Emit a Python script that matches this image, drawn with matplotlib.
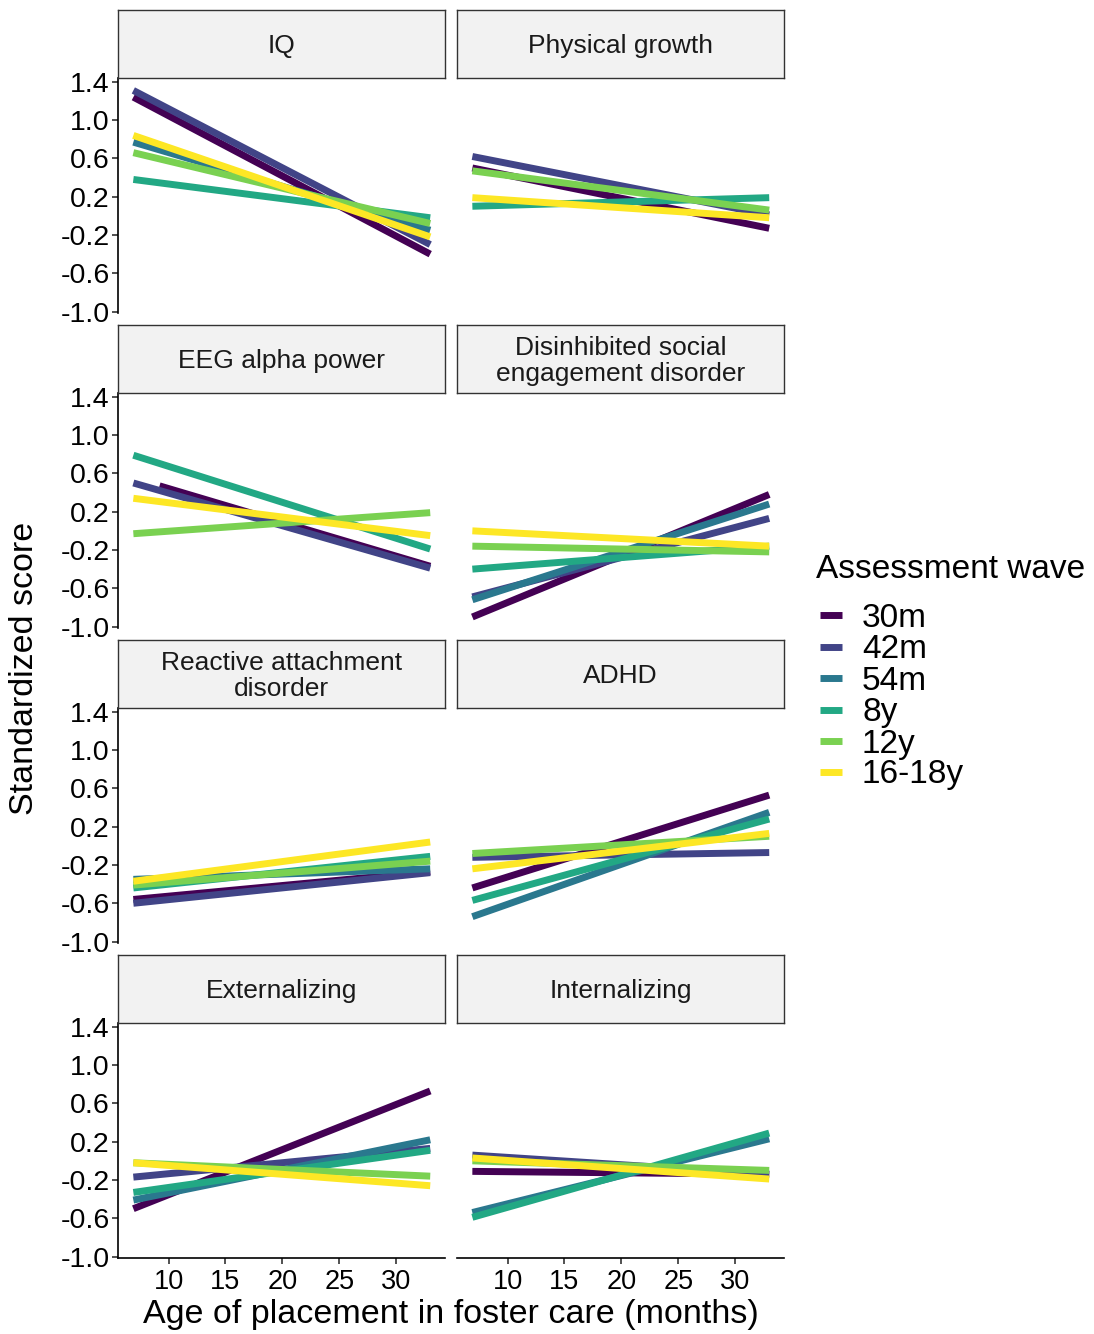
import matplotlib
matplotlib.use("Agg")
import matplotlib.pyplot as plt
from matplotlib.lines import Line2D
import numpy as np

plt.rcParams['font.family'] = ['Liberation Sans', 'DejaVu Sans']

waves = ["30m", "42m", "54m", "8y", "12y", "16-18y"]
colors = ["#440154", "#414487", "#2A788E", "#22A884", "#7AD151", "#FDE725"]

panels = ["IQ", "Physical growth", "EEG alpha power",
          "Disinhibited social\nengagement disorder",
          "Reactive attachment\ndisorder", "ADHD",
          "Externalizing", "Internalizing"]

# age of placement (months) where the fitted lines start / stop
age_lo = [6.9, 6.9, 6.9, 6.9, 6.9, 6.9]
eeg_age_lo = [9.2, 6.9, 6.9, 6.9, 6.9, 6.9]
age_hi = 33.0

# fitted score at youngest and oldest placement age, one per wave (nan = no data)
nan = np.nan
iq_lo = [1.24, 1.31, 0.77, 0.38, 0.66, 0.84]
iq_hi = [-0.40, -0.30, -0.15, -0.02, -0.08, -0.22]
growth_lo = [0.50, 0.62, nan, 0.10, 0.47, 0.19]
growth_hi = [-0.13, 0.01, nan, 0.19, 0.06, -0.02]
eeg_lo = [0.47, 0.50, nan, 0.79, -0.03, 0.34]
eeg_hi = [-0.37, -0.39, nan, -0.19, 0.19, -0.05]
dsed_lo = [-0.90, -0.69, -0.72, -0.40, -0.16, 0.00]
dsed_hi = [0.38, 0.13, 0.28, -0.16, -0.22, -0.16]
rad_lo = [-0.56, -0.60, -0.35, -0.44, -0.41, -0.37]
rad_hi = [-0.27, -0.28, -0.24, -0.11, -0.16, 0.04]
adhd_lo = [-0.44, -0.12, -0.74, -0.57, -0.08, -0.24]
adhd_hi = [0.53, -0.07, 0.35, 0.28, 0.10, 0.13]
ext_lo = [-0.50, -0.17, -0.41, -0.33, -0.02, -0.02]
ext_hi = [0.73, 0.13, 0.22, 0.11, -0.16, -0.26]
int_lo = [-0.11, 0.06, -0.54, -0.59, 0.00, 0.03]
int_hi = [-0.14, -0.14, 0.23, 0.29, -0.10, -0.19]

lo_vals = [iq_lo, growth_lo, eeg_lo, dsed_lo, rad_lo, adhd_lo, ext_lo, int_lo]
hi_vals = [iq_hi, growth_hi, eeg_hi, dsed_hi, rad_hi, adhd_hi, ext_hi, int_hi]
start_ages = [age_lo, age_lo, eeg_age_lo, age_lo, age_lo, age_lo, age_lo, age_lo]

yticks = [-1.0, -0.6, -0.2, 0.2, 0.6, 1.0, 1.4]
xticks = [10, 15, 20, 25, 30]

W, H = 1094, 1334
fig = plt.figure(figsize=(W / 100, H / 100), dpi=100)

col_x = [118, 457]
pw = 327
row_top = [78, 393, 708, 1023]
ph = 235
sh = 68

def fbox(x, top, w, h):
    return [x / W, 1 - (top + h) / H, w / W, h / H]

for i, name in enumerate(panels):
    r, c = divmod(i, 2)
    ax = fig.add_axes(fbox(col_x[c], row_top[r], pw, ph))
    for k in range(len(waves)):
        y0, y1 = lo_vals[i][k], hi_vals[i][k]
        if np.isnan(y0):
            continue
        ax.plot([start_ages[i][k], age_hi], [y0, y1], color=colors[k],
                lw=5, solid_capstyle='butt')
    ax.set_xlim(5.55, 34.3)
    ax.set_ylim(-1.015, 1.44)
    for s in ['top', 'right']:
        ax.spines[s].set_visible(False)
    ax.spines['left'].set_visible(c == 0)
    ax.spines['bottom'].set_visible(r == 3)
    ax.spines['left'].set_linewidth(1.2)
    ax.spines['bottom'].set_linewidth(1.2)
    ax.set_yticks(yticks)
    ax.set_xticks(xticks)
    ax.tick_params(axis='both', labelsize=19.5, length=4, width=1.2, pad=2,
                   colors='#333333', labelcolor='black')
    ax.tick_params(axis='y', labelsize=20.5)
    ax.tick_params(axis='x', pad=4)
    if c == 0:
        ax.set_yticklabels([f"{v:.1f}" for v in yticks])
    else:
        ax.tick_params(axis='y', left=False, labelleft=False)
    if r != 3:
        ax.tick_params(axis='x', bottom=False, labelbottom=False)

    sax = fig.add_axes(fbox(col_x[c], row_top[r] - sh, pw, sh))
    sax.set_facecolor('#F2F2F2')
    sax.set_xticks([])
    sax.set_yticks([])
    for s in sax.spines.values():
        s.set_linewidth(1.0)
        s.set_color('#333333')
    sax.text(0.5, 0.47, name, ha='center', va='center', fontsize=19,
             linespacing=1.08, color='#1A1A1A', transform=sax.transAxes)

fig.text(451 / W, 1 - 1315 / H, "Age of placement in foster care (months)",
         ha='center', va='center', fontsize=24.5)
fig.text(25 / W, 1 - 668 / H, "Standardized score", ha='center', va='center',
         rotation=90, fontsize=24.5)

# legend
fig.text(816 / W, 1 - 570 / H, "Assessment wave", ha='left', va='center', fontsize=24)
key_y = [615, 647, 678, 710, 741, 772]
for k, lab in enumerate(waves):
    yy = 1 - key_y[k] / H
    fig.add_artist(Line2D([820 / W, 842 / W], [yy, yy], color=colors[k], lw=5,
                          solid_capstyle='butt', transform=fig.transFigure))
    fig.text(862 / W, 1 - (key_y[k] + 3) / H, lab, ha='left', va='center', fontsize=24)

fig.savefig("out.png", dpi=100, facecolor='white')
